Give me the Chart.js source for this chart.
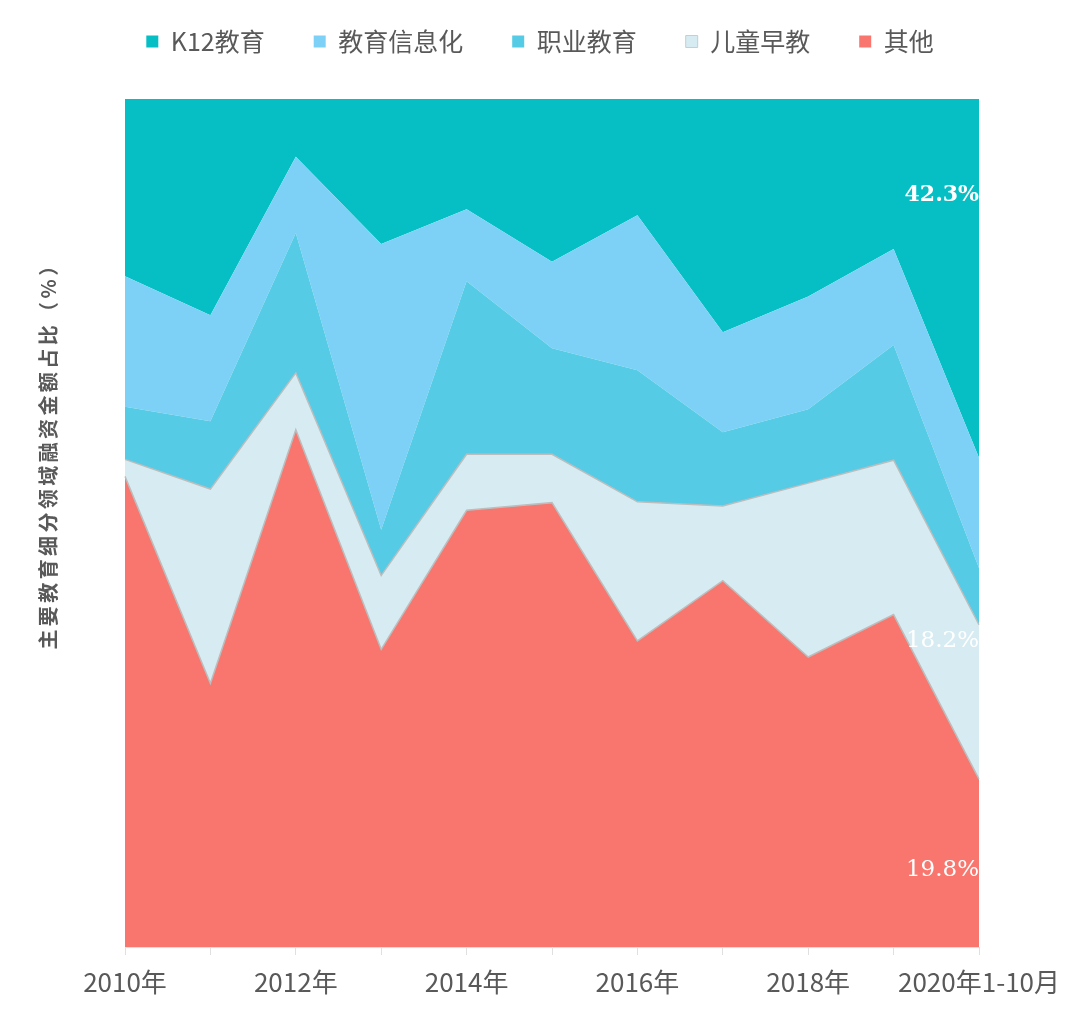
<!DOCTYPE html>
<html>
<head>
<meta charset="utf-8">
<script src="https://cdn.jsdelivr.net/npm/chart.js@4/dist/chart.umd.min.js"></script>
<style>
  html, body { margin: 0; padding: 0; background: #ffffff; }
  #c { display: block; }
</style>
</head>
<body>
<canvas id="c" width="1080" height="1012"></canvas>
<script>
// ---- data (percent share of financing amount) ----
const categories = ['2010年','2011年','2012年','2013年','2014年','2015年','2016年','2017年','2018年','2019年','2020年1-10月'];
const seriesNames = ['其他','儿童早教','职业教育','教育信息化','K12教育'];
const other      = [55.5, 31.1, 61.0, 35.1, 51.5, 52.4, 36.1, 43.2, 34.2, 39.2, 19.8];
const earlyEdu   = [ 2.0, 22.9,  6.7,  8.7,  6.6,  5.7, 16.4,  8.8, 20.5, 18.2, 18.2];
const vocational = [ 6.2,  8.0, 16.5,  5.4, 20.4, 12.5, 15.5,  8.7,  8.7, 13.6,  6.7];
const eduInfo    = [15.4, 12.5,  9.0, 33.7,  8.5, 10.2, 18.3, 11.8, 13.3, 11.3, 13.0];
const k12        = [20.9, 25.5,  6.8, 17.1, 13.0, 19.2, 13.7, 27.5, 23.3, 17.7, 42.3];
const yTitle = '主要教育细分领域融资金额占比（%）';

const colors = ['#F8766D', '#D6ECF2', '#55CBE5', '#7DD1F6', '#06BFC4'];
const values = [other, earlyEdu, vocational, eduInfo, k12];

const datasets = seriesNames.map((name, i) => ({
  label: name,
  data: values[i],
  backgroundColor: colors[i],
  borderColor: i < 2 ? '#BDBDBD' : colors[i],
  borderWidth: i < 2 ? 1.5 : 0,
  fill: i === 0 ? 'origin' : '-1',
  pointRadius: 0,
  pointHoverRadius: 0,
  tension: 0
}));

const textGray = '#595959';

const yTitlePlugin = {
  id: 'yTitlePlugin',
  afterDraw(chart) {
    const ctx = chart.ctx;
    ctx.save();
    ctx.translate(48, 451);
    ctx.rotate(-Math.PI / 2);
    ctx.font = 'bold 20px "Noto Sans CJK SC"';
    ctx.fillStyle = textGray;
    ctx.textAlign = 'center';
    ctx.textBaseline = 'middle';
    if ('letterSpacing' in ctx) ctx.letterSpacing = '3.4px';
    ctx.fillText(yTitle, 0, 0);
    ctx.restore();
  }
};

const valueLabels = {
  id: 'valueLabels',
  afterDatasetsDraw(chart) {
    const ctx = chart.ctx;
    const xs = chart.scales.x, ys = chart.scales.y;
    const last = categories.length - 1;
    const items = [
      { v: k12[last], at: 88.7, font: 'bold 22px "DejaVu Serif"' },
      { v: earlyEdu[last], at: 36.1, font: '23px "DejaVu Serif"' },
      { v: other[last], at: 9.1, font: '23px "DejaVu Serif"' }
    ];
    ctx.save();
    ctx.fillStyle = '#ffffff';
    ctx.textAlign = 'right';
    ctx.textBaseline = 'middle';
    items.forEach(it => {
      ctx.font = it.font;
      ctx.fillText(it.v.toFixed(1) + '%', xs.getPixelForValue(last), ys.getPixelForValue(it.at));
    });
    ctx.restore();
  }
};

const legendHeightFix = {
  id: 'legendHeightFix',
  beforeLayout(chart) {
    const lg = chart.legend;
    if (lg && !lg._hfix) {
      const orig = lg.fit;
      lg.fit = function () { orig.call(this); this.height = 119; };
      lg._hfix = true;
    }
  }
};

new Chart(document.getElementById('c'), {
  type: 'line',
  data: { labels: categories, datasets },
  plugins: [legendHeightFix, valueLabels, yTitlePlugin],
  options: {
    responsive: false,
    animation: false,
    devicePixelRatio: 1,
    layout: { padding: { top: -20, left: 0, right: 0, bottom: 0 } },
    interaction: { mode: null },
    plugins: {
      tooltip: { enabled: false },
      legend: {
        reverse: true,
        labels: {
          boxWidth: 12,
          boxHeight: 12,
          padding: 49,
          color: textGray,
          font: { family: '"Noto Sans CJK SC"', size: 25 },
          generateLabels(chart) {
            const items = Chart.defaults.plugins.legend.labels.generateLabels(chart);
            return items.map(it => {
              if (it.datasetIndex === 1) {
                it.lineWidth = 1;
                it.strokeStyle = '#C8CED0';
              } else {
                it.lineWidth = 0;
                it.strokeStyle = it.fillStyle;
              }
              return it;
            });
          }
        }
      }
    },
    scales: {
      x: {
        type: 'category',
        offset: false,
        grid: { display: true, drawOnChartArea: false, drawTicks: true, tickLength: 8, color: '#E0E0E0' },
        border: { display: true, color: '#E0E0E0', width: 1 },
        ticks: {
          autoSkip: false,
          maxRotation: 0,
          minRotation: 0,
          padding: 12,
          color: textGray,
          font: { family: '"Noto Sans CJK SC"', size: 26 },
          callback(val, idx) { return idx % 2 === 0 ? this.getLabelForValue(val) : ''; }
        },
        afterFit(s) { s.height = 65; }
      },
      y: {
        stacked: true,
        min: 0,
        max: 100,
        ticks: { display: false },
        grid: { display: false },
        border: { display: false },
        afterFit(s) { s.width = 125; }
      },
      yRight: {
        type: 'linear',
        position: 'right',
        ticks: { display: false },
        grid: { display: false },
        border: { display: false },
        afterFit(s) { s.width = 101; }
      }
    }
  }
});
</script>
</body>
</html>
